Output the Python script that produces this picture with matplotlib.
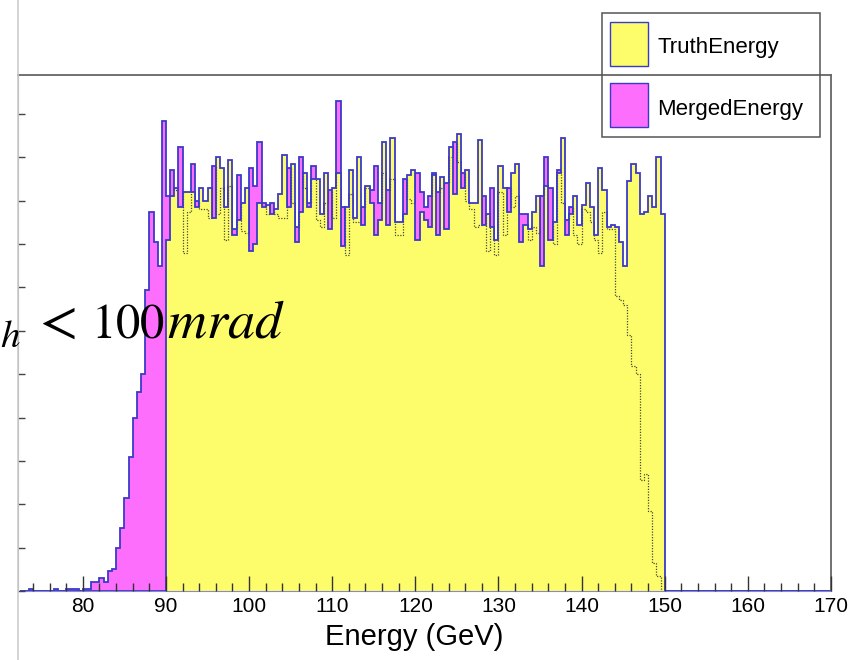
import numpy as np
import matplotlib.pyplot as plt
from matplotlib.patches import Rectangle
from matplotlib.lines import Line2D

plt.rcParams['font.family'] = ['Liberation Sans', 'DejaVu Sans']
plt.rcParams['mathtext.fontset'] = 'stix'

# bin width 0.5 GeV
low_edge = 72.5
# MergedEnergy below 90 GeV (72.5 .. 90)
merged_low = [0, 0, 1, 0, 0, 0, 0, 0, 1, 0, 0, 1, 1, 1, 0, 1, 1, 4, 4, 6,
              4, 9, 10, 20, 29, 43, 62, 80, 92, 100, 139, 175, 161, 150, 217]
# 90 .. 150 GeV
truth = [162, 182, 186, 177, 184, 184, 184, 177, 186, 180, 186, 172, 200, 195, 177,
         199, 164, 171, 179, 186, 157, 160, 179, 177, 178, 174, 176, 183, 201, 177,
         197, 161, 175, 193, 177, 190, 190, 174, 193, 167, 186, 193, 159, 177, 194,
         172, 200, 169, 187, 179, 164, 171, 207, 169, 209, 170, 170, 174, 192, 194,
         162, 175, 171, 168, 192, 164, 191, 167, 205, 183, 211, 186, 194, 179, 179,
         208, 169, 174, 168, 162, 196, 186, 175, 193, 197, 161, 169, 167, 175, 182,
         150, 187, 162, 170, 193, 209, 164, 174, 182, 169, 178, 188, 177, 164, 195,
         185, 168, 169, 168, 161, 150, 189, 197, 193, 174, 175, 182, 177, 200, 174]
merged = [182, 194, 185, 205, 156, 175, 197, 180, 176, 176, 172, 196, 174, 186, 162,
          187, 167, 192, 166, 165, 195, 187, 207, 179, 174, 179, 174, 172, 172, 195,
          179, 168, 200, 186, 179, 196, 171, 168, 179, 185, 172, 226, 177, 155, 183,
          170, 170, 177, 186, 185, 196, 179, 193, 185, 190, 164, 164, 190, 181, 179,
          193, 184, 177, 182, 193, 184, 186, 188, 200, 207, 198, 193, 180, 176, 168,
          169, 182, 157, 186, 155, 184, 164, 186, 177, 182, 174, 174, 162, 168, 165,
          182, 200, 186, 160, 194, 179, 171, 177, 164, 160, 176, 175, 170, 162, 156,
          175, 167, 167, 136, 134, 132, 118, 104, 100, 51, 54, 37, 13, 7, 0]
n_high = 40  # empty bins 150 .. 170

edges = low_edge + 0.5 * np.arange(len(merged_low) + len(truth) + n_high + 1)
m_vals = np.array(merged_low + merged + [0] * n_high, dtype=float)
t_vals = np.array([0] * len(merged_low) + truth + [0] * n_high, dtype=float)

YEL = '#fdfd6c'
MAG = '#fd6efd'
BLUE = '#3a3ac8'

fig = plt.figure(figsize=(8.52, 6.6), dpi=100)
ax = fig.add_axes([18 / 852, 69 / 660, 813 / 852, 516 / 660])

ax.stairs(m_vals, edges, fill=True, color=MAG, zorder=1)
ax.stairs(m_vals, edges, color=BLUE, lw=1.3, zorder=1.1)
yfill = ax.stairs(t_vals, edges, fill=True, color=YEL, zorder=2)
dots = ax.stairs(m_vals, edges, color='#4a4a30', lw=0.9, ls=(0, (1, 1.2)), zorder=2.1)
dots.set_clip_path(yfill)
ax.stairs(t_vals, edges, color=BLUE, lw=1.3, zorder=2.2)

ax.set_xlim(72.2, 170)
ax.set_ylim(0, 238)
ax.set_axisbelow(False)
ax.set_xticks(np.arange(80, 171, 10))
ax.set_xticks(np.arange(74, 171, 2), minor=True)
ax.set_yticks(np.arange(0, 221, 20))
ax.set_yticklabels([])
ax.tick_params(axis='x', which='major', direction='in', length=11, width=1,
               color='#333333', labelsize=15, pad=4)
ax.tick_params(axis='x', which='minor', direction='in', length=6, width=1, color='#333333')
ax.tick_params(axis='y', direction='in', length=5, width=1, color='#444444')
for s in ['top', 'right']:
    ax.spines[s].set_color('#666666')
    ax.spines[s].set_linewidth(1.3)
ax.spines['left'].set_color('#999999')
ax.spines['bottom'].set_color('#8888cc')

fig.text(414 / 852, 1 - 637 / 660, 'Energy (GeV)', ha='center', va='center', fontsize=21)

# page edge line on the left
fig.add_artist(Line2D([18 / 852, 18 / 852], [0, 1], color='#cccccc', lw=1.2))

# legend
fig.add_artist(Rectangle((602 / 852, 1 - 137 / 660), 218 / 852, 124 / 660,
                         fill=False, edgecolor='#555555', lw=1.1))
for top, col, lab in [(21.7, YEL, 'TruthEnergy'), (83.3, MAG, 'MergedEnergy')]:
    fig.add_artist(Rectangle((610 / 852, 1 - (top + 44) / 660), 38 / 852, 44 / 660,
                             facecolor=col, edgecolor=BLUE, lw=1))
    fig.text(657 / 852, 1 - (top + 26) / 660, lab, ha='left', va='center', fontsize=16)

# annotation, pieces placed as in the picture
base = 1 - 338 / 660
fig.text(0.5 / 852, 1 - 347 / 660, r'$h$', ha='left', va='baseline', fontsize=28)
fig.text(31 / 852, base, r'$<$', ha='left', va='baseline', fontsize=40)
fig.text(91 / 852, base, r'$100$', ha='left', va='baseline', fontsize=35)
fig.text(167 / 852, base, r'$mrad$', ha='left', va='baseline', fontsize=39)

fig.savefig('out.png', dpi=100)
